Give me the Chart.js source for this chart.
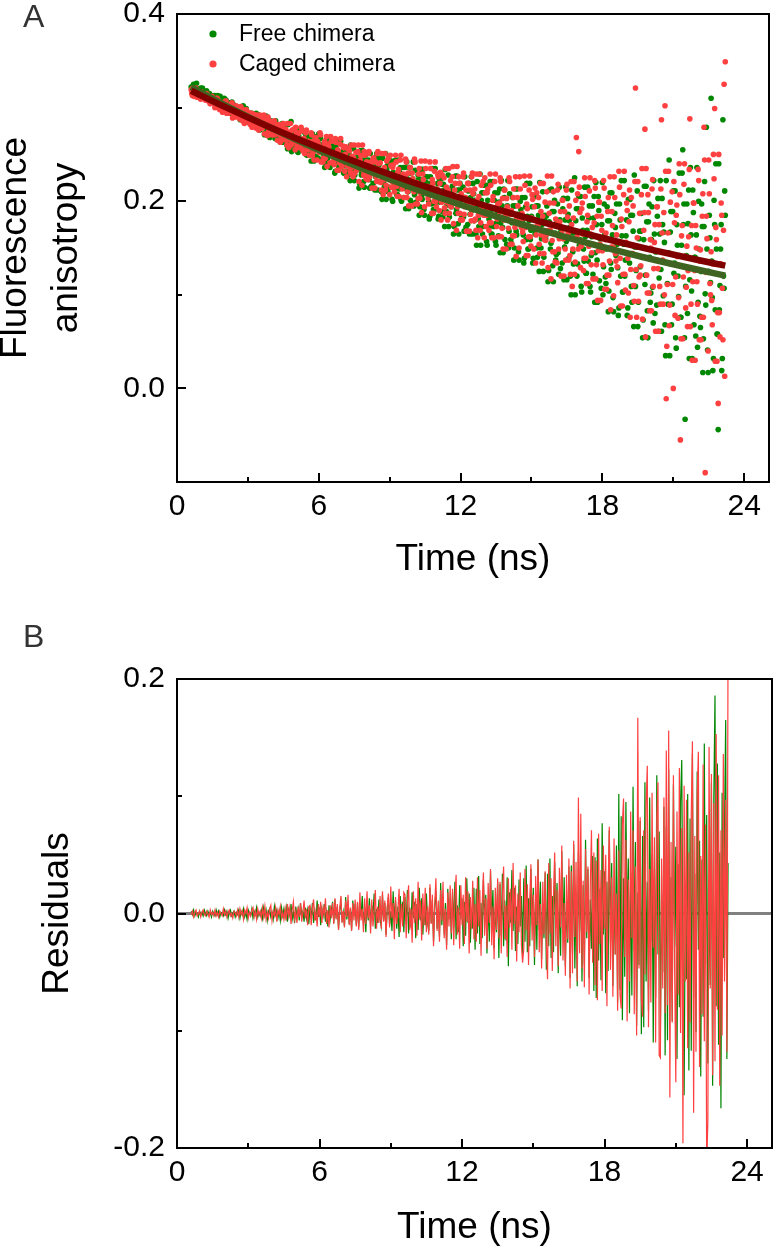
<!DOCTYPE html>
<html><head><meta charset="utf-8">
<script src="https://cdn.jsdelivr.net/npm/chart.js@4.4.1/dist/chart.umd.min.js"></script>
<style>
html,body{margin:0;padding:0;background:#fff;}
#wrap{position:relative;width:773px;height:1250px;overflow:hidden;background:#fff;}
canvas{position:absolute;left:0;}
.plabel{position:absolute;left:23px;font-family:Arial,"Liberation Sans",Helvetica,sans-serif;font-size:32px;line-height:32px;color:#333;}
</style></head><body>
<div id="wrap">
<canvas id="cA" width="773" height="630" style="top:-30px;width:773px;height:630px"></canvas>
<canvas id="cB" width="773" height="650" style="top:600px;width:773px;height:650px"></canvas>
<div class="plabel" style="top:0px">A</div>
<div class="plabel" style="top:620px">B</div>
</div>
<script>
// ---------------- DATA ----------------
const seriesNames = ['Free chimera', 'Caged chimera'];
const xTicks = [0, 6, 12, 18, 24];
const xMinorTicks = [3, 9, 15, 21];
const yTicksA = [0.0, 0.2, 0.4];
const yMinorTicksA = [-0.1, 0.1, 0.3];
const yTicksB = [-0.2, 0.0, 0.2];
const yMinorTicksB = [-0.1, 0.1];

// time channels (ns)
const time = [
0.6,0.65,0.7,0.75,0.8,0.85,0.9,0.95,1.0,1.05,1.1,1.15,1.2,1.25,1.3,1.35,1.4,1.45,1.5,1.55,
1.6,1.65,1.7,1.75,1.8,1.85,1.9,1.95,2.0,2.05,2.1,2.15,2.2,2.25,2.3,2.35,2.4,2.45,2.5,2.55,
2.6,2.65,2.7,2.75,2.8,2.85,2.9,2.95,3.0,3.05,3.1,3.15,3.2,3.25,3.3,3.35,3.4,3.45,3.5,3.55,
3.6,3.65,3.7,3.75,3.8,3.85,3.9,3.95,4.0,4.05,4.1,4.15,4.2,4.25,4.3,4.35,4.4,4.45,4.5,4.55,
4.6,4.65,4.7,4.75,4.8,4.85,4.9,4.95,5.0,5.05,5.1,5.15,5.2,5.25,5.3,5.35,5.4,5.45,5.5,5.55,
5.6,5.65,5.7,5.75,5.8,5.85,5.9,5.95,6.0,6.05,6.1,6.15,6.2,6.25,6.3,6.35,6.4,6.45,6.5,6.55,
6.6,6.65,6.7,6.75,6.8,6.85,6.9,6.95,7.0,7.05,7.1,7.15,7.2,7.25,7.3,7.35,7.4,7.45,7.5,7.55,
7.6,7.65,7.7,7.75,7.8,7.85,7.9,7.95,8.0,8.05,8.1,8.15,8.2,8.25,8.3,8.35,8.4,8.45,8.5,8.55,
8.6,8.65,8.7,8.75,8.8,8.85,8.9,8.95,9.0,9.05,9.1,9.15,9.2,9.25,9.3,9.35,9.4,9.45,9.5,9.55,
9.6,9.65,9.7,9.75,9.8,9.85,9.9,9.95,10.0,10.05,10.1,10.15,10.2,10.25,10.3,10.35,10.4,10.45,10.5,10.55,
10.6,10.65,10.7,10.75,10.8,10.85,10.9,10.95,11.0,11.05,11.1,11.15,11.2,11.25,11.3,11.35,11.4,11.45,11.5,11.55,
11.6,11.65,11.7,11.75,11.8,11.85,11.9,11.95,12.0,12.05,12.1,12.15,12.2,12.25,12.3,12.35,12.4,12.45,12.5,12.55,
12.6,12.65,12.7,12.75,12.8,12.85,12.9,12.95,13.0,13.05,13.1,13.15,13.2,13.25,13.3,13.35,13.4,13.45,13.5,13.55,
13.6,13.65,13.7,13.75,13.8,13.85,13.9,13.95,14.0,14.05,14.1,14.15,14.2,14.25,14.3,14.35,14.4,14.45,14.5,14.55,
14.6,14.65,14.7,14.75,14.8,14.85,14.9,14.95,15.0,15.05,15.1,15.15,15.2,15.25,15.3,15.35,15.4,15.45,15.5,15.55,
15.6,15.65,15.7,15.75,15.8,15.85,15.9,15.95,16.0,16.05,16.1,16.15,16.2,16.25,16.3,16.35,16.4,16.45,16.5,16.55,
16.6,16.65,16.7,16.75,16.8,16.85,16.9,16.95,17.0,17.05,17.1,17.15,17.2,17.25,17.3,17.35,17.4,17.45,17.5,17.55,
17.6,17.65,17.7,17.75,17.8,17.85,17.9,17.95,18.0,18.05,18.1,18.15,18.2,18.25,18.3,18.35,18.4,18.45,18.5,18.55,
18.6,18.65,18.7,18.75,18.8,18.85,18.9,18.95,19.0,19.05,19.1,19.15,19.2,19.25,19.3,19.35,19.4,19.45,19.5,19.55,
19.6,19.65,19.7,19.75,19.8,19.85,19.9,19.95,20.0,20.05,20.1,20.15,20.2,20.25,20.3,20.35,20.4,20.45,20.5,20.55,
20.6,20.65,20.7,20.75,20.8,20.85,20.9,20.95,21.0,21.05,21.1,21.15,21.2,21.25,21.3,21.35,21.4,21.45,21.5,21.55,
21.6,21.65,21.7,21.75,21.8,21.85,21.9,21.95,22.0,22.05,22.1,22.15,22.2,22.25,22.3,22.35,22.4,22.45,22.5,22.55,
22.6,22.65,22.7,22.75,22.8,22.85,22.9,22.95,23.0,23.05,23.1,23.15,23.2
];
// intermediate time channels used by the anisotropy points
const timeMid = [
0.625,0.675,0.725,0.775,0.825,0.875,0.925,0.975,1.025,1.075,1.125,1.175,1.225,1.275,1.325,1.375,1.425,1.475,1.525,1.575,
1.625,1.675,1.725,1.775,1.825,1.875,1.925,1.975,2.025,2.075,2.125,2.175,2.225,2.275,2.325,2.375,2.425,2.475,2.525,2.575,
2.625,2.675,2.725,2.775,2.825,2.875,2.925,2.975,3.025,3.075,3.125,3.175,3.225,3.275,3.325,3.375,3.425,3.475,3.525,3.575,
3.625,3.675,3.725,3.775,3.825,3.875,3.925,3.975,4.025,4.075,4.125,4.175,4.225,4.275,4.325,4.375,4.425,4.475,4.525,4.575,
4.625,4.675,4.725,4.775,4.825,4.875,4.925,4.975,5.025,5.075,5.125,5.175,5.225,5.275,5.325,5.375,5.425,5.475,5.525,5.575,
5.625,5.675,5.725,5.775,5.825,5.875,5.925,5.975,6.025,6.075,6.125,6.175,6.225,6.275,6.325,6.375,6.425,6.475,6.525,6.575,
6.625,6.675,6.725,6.775,6.825,6.875,6.925,6.975,7.025,7.075,7.125,7.175,7.225,7.275,7.325,7.375,7.425,7.475,7.525,7.575,
7.625,7.675,7.725,7.775,7.825,7.875,7.925,7.975,8.025,8.075,8.125,8.175,8.225,8.275,8.325,8.375,8.425,8.475,8.525,8.575,
8.625,8.675,8.725,8.775,8.825,8.875,8.925,8.975,9.025,9.075,9.125,9.175,9.225,9.275,9.325,9.375,9.425,9.475,9.525,9.575,
9.625,9.675,9.725,9.775,9.825,9.875,9.925,9.975,10.025,10.075,10.125,10.175,10.225,10.275,10.325,10.375,10.425,10.475,10.525,10.575,
10.625,10.675,10.725,10.775,10.825,10.875,10.925,10.975,11.025,11.075,11.125,11.175,11.225,11.275,11.325,11.375,11.425,11.475,11.525,11.575,
11.625,11.675,11.725,11.775,11.825,11.875,11.925,11.975,12.025,12.075,12.125,12.175,12.225,12.275,12.325,12.375,12.425,12.475,12.525,12.575,
12.625,12.675,12.725,12.775,12.825,12.875,12.925,12.975,13.025,13.075,13.125,13.175,13.225,13.275,13.325,13.375,13.425,13.475,13.525,13.575,
13.625,13.675,13.725,13.775,13.825,13.875,13.925,13.975,14.025,14.075,14.125,14.175,14.225,14.275,14.325,14.375,14.425,14.475,14.525,14.575,
14.625,14.675,14.725,14.775,14.825,14.875,14.925,14.975,15.025,15.075,15.125,15.175,15.225,15.275,15.325,15.375,15.425,15.475,15.525,15.575,
15.625,15.675,15.725,15.775,15.825,15.875,15.925,15.975,16.025,16.075,16.125,16.175,16.225,16.275,16.325,16.375,16.425,16.475,16.525,16.575,
16.625,16.675,16.725,16.775,16.825,16.875,16.925,16.975,17.025,17.075,17.125,17.175,17.225,17.275,17.325,17.375,17.425,17.475,17.525,17.575,
17.625,17.675,17.725,17.775,17.825,17.875,17.925,17.975,18.025,18.075,18.125,18.175,18.225,18.275,18.325,18.375,18.425,18.475,18.525,18.575,
18.625,18.675,18.725,18.775,18.825,18.875,18.925,18.975,19.025,19.075,19.125,19.175,19.225,19.275,19.325,19.375,19.425,19.475,19.525,19.575,
19.625,19.675,19.725,19.775,19.825,19.875,19.925,19.975,20.025,20.075,20.125,20.175,20.225,20.275,20.325,20.375,20.425,20.475,20.525,20.575,
20.625,20.675,20.725,20.775,20.825,20.875,20.925,20.975,21.025,21.075,21.125,21.175,21.225,21.275,21.325,21.375,21.425,21.475,21.525,21.575,
21.625,21.675,21.725,21.775,21.825,21.875,21.925,21.975,22.025,22.075,22.125,22.175,22.225,22.275,22.325,22.375,22.425,22.475,22.525,22.575,
22.625,22.675,22.725,22.775,22.825,22.875,22.925,22.975,23.025,23.075,23.125,23.175
];

// anisotropy, free chimera (green points) at `time`
const freeAniso = [
0.322,0.318,0.325,0.320,0.321,0.313,0.320,0.315,0.321,0.317,0.310,0.316,0.313,0.318,0.311,0.311,0.309,0.313,0.306,0.311,
0.304,0.312,0.306,0.309,0.301,0.307,0.304,0.299,0.310,0.302,0.302,0.297,0.305,0.294,0.303,0.296,0.303,0.292,0.297,0.299,
0.299,0.292,0.288,0.298,0.302,0.286,0.292,0.288,0.293,0.284,0.294,0.287,0.292,0.282,0.290,0.294,0.281,0.285,0.276,0.286,
0.280,0.287,0.271,0.284,0.278,0.288,0.271,0.283,0.278,0.274,0.283,0.267,0.279,0.277,0.269,0.281,0.270,0.283,0.263,0.277,
0.274,0.260,0.282,0.267,0.271,0.253,0.274,0.261,0.277,0.267,0.253,0.270,0.262,0.277,0.256,0.264,0.256,0.270,0.249,0.262,
0.250,0.269,0.255,0.262,0.243,0.265,0.258,0.246,0.272,0.252,0.255,0.243,0.261,0.236,0.258,0.248,0.265,0.239,0.251,0.256,
0.258,0.242,0.232,0.254,0.264,0.236,0.248,0.240,0.250,0.230,0.254,0.238,0.250,0.228,0.246,0.260,0.232,0.242,0.222,0.244,
0.233,0.247,0.214,0.240,0.228,0.254,0.221,0.244,0.235,0.226,0.244,0.214,0.237,0.232,0.219,0.246,0.226,0.251,0.212,0.239,
0.233,0.210,0.246,0.220,0.228,0.202,0.238,0.215,0.243,0.225,0.202,0.231,0.218,0.244,0.207,0.226,0.213,0.236,0.200,0.223,
0.204,0.236,0.213,0.224,0.192,0.230,0.219,0.198,0.242,0.207,0.217,0.197,0.228,0.185,0.223,0.205,0.234,0.191,0.211,0.220,
0.226,0.200,0.184,0.219,0.235,0.191,0.210,0.197,0.213,0.181,0.224,0.199,0.218,0.183,0.212,0.234,0.189,0.205,0.173,0.208,
0.194,0.216,0.165,0.205,0.187,0.227,0.176,0.212,0.198,0.183,0.215,0.168,0.204,0.197,0.175,0.219,0.186,0.226,0.165,0.208,
0.201,0.165,0.221,0.181,0.193,0.153,0.209,0.173,0.217,0.189,0.157,0.201,0.181,0.221,0.165,0.193,0.173,0.209,0.153,0.189,
0.163,0.213,0.177,0.195,0.145,0.204,0.186,0.154,0.222,0.168,0.186,0.155,0.204,0.137,0.195,0.168,0.213,0.146,0.177,0.191,
0.204,0.164,0.139,0.194,0.219,0.149,0.179,0.159,0.184,0.134,0.205,0.165,0.195,0.140,0.185,0.220,0.150,0.175,0.125,0.180,
0.160,0.195,0.114,0.178,0.149,0.213,0.131,0.189,0.166,0.143,0.197,0.122,0.180,0.168,0.134,0.203,0.151,0.215,0.116,0.186,
0.179,0.120,0.212,0.146,0.166,0.100,0.192,0.133,0.205,0.159,0.109,0.182,0.149,0.215,0.123,0.169,0.136,0.195,0.103,0.162,
0.122,0.205,0.145,0.175,0.092,0.190,0.160,0.107,0.220,0.130,0.164,0.112,0.194,0.082,0.179,0.134,0.209,0.097,0.149,0.172,
0.197,0.129,0.086,0.180,0.222,0.103,0.154,0.120,0.163,0.078,0.202,0.134,0.185,0.092,0.168,0.228,0.109,0.151,0.066,0.160,
0.130,0.187,0.054,0.159,0.111,0.216,0.083,0.178,0.140,0.102,0.194,0.070,0.165,0.146,0.089,0.203,0.118,0.222,0.061,0.175,
0.167,0.068,0.222,0.112,0.145,0.035,0.189,0.090,0.211,0.134,0.054,0.175,0.120,0.230,0.076,0.153,0.255,0.197,-0.033,0.142,
0.080,0.212,0.116,0.164,0.032,0.188,0.140,0.056,0.236,0.092,0.149,0.065,0.197,0.017,0.173,0.101,0.279,0.041,0.125,0.161,
0.310,0.097,0.032,0.175,0.240,0.058,-0.044,0.084,0.149,0.019,0.287,0.107,0.185
];
// anisotropy, free chimera (green points) at `timeMid`
const freeAnisoMid = [
0.322,0.316,0.321,0.319,0.326,0.319,0.314,0.320,0.317,0.321,0.310,0.315,0.312,0.314,0.311,0.315,0.312,0.307,0.309,0.313,
0.310,0.301,0.313,0.306,0.312,0.300,0.304,0.306,0.299,0.308,0.298,0.300,0.303,0.296,0.306,0.295,0.299,0.291,0.301,0.296,
0.295,0.287,0.299,0.291,0.296,0.286,0.299,0.290,0.294,0.284,0.288,0.294,0.284,0.292,0.280,0.285,0.283,0.292,0.279,0.287,
0.285,0.281,0.273,0.291,0.279,0.283,0.268,0.286,0.272,0.281,0.272,0.286,0.268,0.277,0.281,0.263,0.276,0.271,0.281,0.268,
0.273,0.256,0.271,0.264,0.285,0.271,0.258,0.274,0.265,0.277,0.252,0.267,0.259,0.265,0.256,0.274,0.267,0.250,0.258,0.270,
0.263,0.243,0.272,0.253,0.269,0.248,0.258,0.262,0.245,0.267,0.244,0.251,0.258,0.241,0.265,0.246,0.255,0.236,0.260,0.249,
0.248,0.230,0.258,0.240,0.250,0.236,0.264,0.244,0.254,0.232,0.240,0.254,0.232,0.250,0.222,0.242,0.236,0.256,0.228,0.246,
0.242,0.235,0.219,0.254,0.231,0.244,0.215,0.249,0.224,0.240,0.223,0.251,0.216,0.232,0.242,0.212,0.237,0.228,0.246,0.221,
0.230,0.202,0.228,0.215,0.251,0.233,0.210,0.238,0.223,0.243,0.200,0.226,0.213,0.223,0.207,0.244,0.231,0.202,0.215,0.236,
0.227,0.192,0.242,0.210,0.236,0.201,0.219,0.224,0.195,0.233,0.199,0.211,0.223,0.194,0.234,0.202,0.217,0.185,0.226,0.208,
0.210,0.181,0.226,0.197,0.213,0.190,0.235,0.203,0.219,0.184,0.202,0.224,0.189,0.218,0.173,0.205,0.196,0.228,0.183,0.212,
0.209,0.198,0.173,0.227,0.191,0.212,0.165,0.219,0.180,0.205,0.183,0.226,0.172,0.197,0.211,0.165,0.204,0.190,0.219,0.179,
0.197,0.153,0.193,0.173,0.229,0.201,0.165,0.209,0.185,0.217,0.153,0.193,0.173,0.189,0.165,0.221,0.201,0.157,0.177,0.209,
0.199,0.145,0.222,0.172,0.213,0.159,0.186,0.195,0.150,0.208,0.159,0.177,0.195,0.150,0.213,0.164,0.186,0.137,0.200,0.173,
0.179,0.134,0.204,0.159,0.184,0.149,0.219,0.169,0.194,0.139,0.170,0.205,0.150,0.195,0.125,0.175,0.160,0.210,0.140,0.185,
0.184,0.166,0.126,0.212,0.155,0.189,0.114,0.201,0.137,0.178,0.145,0.215,0.128,0.168,0.192,0.116,0.180,0.157,0.203,0.139,
0.172,0.100,0.166,0.133,0.225,0.179,0.120,0.192,0.153,0.205,0.103,0.169,0.136,0.162,0.123,0.215,0.182,0.109,0.142,0.195,
0.182,0.092,0.220,0.137,0.205,0.115,0.160,0.175,0.100,0.197,0.119,0.149,0.179,0.104,0.209,0.127,0.164,0.082,0.187,0.142,
0.154,0.078,0.197,0.120,0.163,0.103,0.222,0.137,0.180,0.086,0.143,0.202,0.109,0.185,0.066,0.151,0.126,0.211,0.092,0.168,
0.168,0.140,0.073,0.216,0.121,0.178,0.054,0.197,0.092,0.159,0.108,0.222,0.080,0.146,0.184,0.061,0.165,0.127,0.203,0.099,
0.156,0.035,0.145,0.090,0.244,0.167,0.068,0.189,0.123,0.211,0.043,0.153,0.098,0.142,0.076,0.230,0.175,0.054,0.109,0.197,
0.176,0.032,0.236,0.104,0.212,0.068,0.140,0.164,0.044,0.200,0.077,0.125,0.173,0.053,0.221,0.089,0.149,0.017,0.185,0.113,
0.136,0.019,0.201,0.084,0.149,0.058,0.240,0.110,0.175,0.032,0.120,0.211
];

// anisotropy, caged chimera (red points) at `time`
const cagedAniso = [
0.319,0.313,0.317,0.315,0.321,0.311,0.313,0.317,0.309,0.315,0.310,0.313,0.308,0.315,0.309,0.309,0.304,0.311,0.308,0.306,
0.300,0.306,0.310,0.302,0.298,0.305,0.301,0.304,0.300,0.307,0.294,0.299,0.295,0.303,0.297,0.289,0.299,0.295,0.302,0.294,
0.294,0.288,0.301,0.291,0.296,0.283,0.295,0.286,0.290,0.294,0.282,0.294,0.285,0.286,0.292,0.278,0.286,0.276,0.292,0.281,
0.278,0.289,0.272,0.284,0.280,0.290,0.273,0.284,0.271,0.279,0.285,0.271,0.277,0.265,0.282,0.271,0.277,0.266,0.283,0.272,
0.277,0.260,0.272,0.266,0.283,0.261,0.267,0.277,0.255,0.273,0.263,0.273,0.257,0.279,0.260,0.266,0.251,0.273,0.263,0.258,
0.249,0.263,0.271,0.252,0.244,0.268,0.257,0.264,0.256,0.273,0.242,0.256,0.246,0.264,0.249,0.237,0.261,0.252,0.269,0.251,
0.251,0.239,0.267,0.245,0.255,0.233,0.261,0.241,0.249,0.257,0.232,0.258,0.238,0.242,0.254,0.230,0.248,0.226,0.260,0.236,
0.233,0.253,0.221,0.244,0.237,0.260,0.228,0.249,0.224,0.240,0.251,0.226,0.237,0.214,0.246,0.230,0.242,0.221,0.253,0.233,
0.241,0.212,0.233,0.223,0.251,0.217,0.228,0.246,0.207,0.238,0.221,0.239,0.210,0.249,0.216,0.231,0.205,0.244,0.226,0.218,
0.204,0.227,0.242,0.210,0.195,0.236,0.219,0.230,0.216,0.245,0.197,0.220,0.203,0.235,0.209,0.188,0.229,0.214,0.243,0.211,
0.216,0.197,0.242,0.207,0.223,0.187,0.232,0.200,0.213,0.226,0.190,0.231,0.199,0.206,0.225,0.187,0.215,0.180,0.235,0.196,
0.194,0.226,0.176,0.212,0.201,0.237,0.187,0.219,0.180,0.205,0.226,0.186,0.204,0.168,0.219,0.194,0.212,0.179,0.230,0.197,
0.213,0.169,0.201,0.185,0.229,0.177,0.193,0.221,0.161,0.209,0.185,0.213,0.169,0.229,0.177,0.201,0.161,0.221,0.193,0.181,
0.162,0.198,0.221,0.171,0.149,0.212,0.185,0.203,0.180,0.225,0.154,0.190,0.163,0.213,0.172,0.141,0.204,0.181,0.226,0.177,
0.187,0.157,0.227,0.172,0.197,0.142,0.212,0.162,0.182,0.202,0.149,0.214,0.164,0.174,0.204,0.144,0.189,0.134,0.219,0.159,
0.158,0.210,0.129,0.187,0.169,0.227,0.146,0.198,0.135,0.175,0.212,0.149,0.178,0.120,0.201,0.160,0.189,0.137,0.218,0.166,
0.195,0.122,0.175,0.149,0.221,0.135,0.268,0.208,0.253,0.188,0.152,0.198,0.126,0.225,0.139,0.178,0.112,0.211,0.165,0.145,
0.117,0.177,0.214,0.132,0.094,0.199,0.154,0.184,0.147,0.222,0.106,0.166,0.121,0.204,0.136,0.084,0.189,0.151,0.226,0.144,
0.164,0.113,0.232,0.139,0.181,0.088,0.207,0.122,0.156,0.190,0.102,0.212,0.127,0.144,0.195,0.093,0.321,0.076,0.221,0.119,
0.121,0.207,0.074,0.169,0.277,0.235,0.102,0.188,0.083,0.150,0.213,0.109,0.156,0.061,0.194,0.128,0.175,0.090,0.287,0.137,
0.188,0.302,-0.011,0.111,0.232,0.089,0.133,0.210,0.000,0.177,0.119,0.196,0.075,0.240,-0.055,0.163,0.053,0.218,0.141,0.108,
0.066,0.162,0.288,0.090,0.030,0.198,0.126,0.174,0.114,0.234,0.052,0.148,0.076,0.208,0.279,-0.090,0.184,0.124,0.244,0.112,
0.146,0.068,0.250,0.299,0.172,0.029,-0.016,0.081,0.133,0.185,0.052,0.325,0.349
];
// anisotropy, caged chimera (red points) at `timeMid`
const cagedAnisoMid = [
0.315,0.321,0.312,0.318,0.313,0.316,0.313,0.312,0.317,0.311,0.313,0.311,0.309,0.314,0.307,0.309,0.307,0.312,0.305,0.308,
0.304,0.310,0.300,0.307,0.303,0.305,0.295,0.302,0.299,0.307,0.299,0.294,0.302,0.295,0.305,0.295,0.297,0.290,0.300,0.294,
0.290,0.293,0.299,0.286,0.295,0.286,0.298,0.285,0.295,0.288,0.290,0.279,0.293,0.286,0.283,0.292,0.282,0.285,0.278,0.288,
0.279,0.292,0.280,0.286,0.270,0.275,0.286,0.273,0.280,0.271,0.286,0.274,0.280,0.275,0.282,0.263,0.269,0.282,0.276,0.266,
0.265,0.283,0.257,0.274,0.260,0.276,0.267,0.264,0.279,0.259,0.272,0.266,0.260,0.275,0.254,0.267,0.260,0.276,0.255,0.264,
0.257,0.273,0.249,0.264,0.256,0.268,0.244,0.261,0.252,0.271,0.254,0.242,0.261,0.246,0.269,0.252,0.258,0.241,0.264,0.249,
0.243,0.249,0.263,0.233,0.253,0.241,0.267,0.237,0.259,0.245,0.250,0.226,0.256,0.242,0.234,0.260,0.238,0.246,0.230,0.252,
0.235,0.260,0.237,0.249,0.217,0.233,0.253,0.228,0.242,0.223,0.253,0.230,0.242,0.233,0.246,0.214,0.226,0.251,0.240,0.221,
0.220,0.251,0.207,0.236,0.212,0.243,0.228,0.223,0.249,0.215,0.236,0.226,0.216,0.242,0.205,0.234,0.221,0.249,0.213,0.229,
0.219,0.245,0.204,0.230,0.216,0.236,0.195,0.224,0.210,0.242,0.217,0.197,0.229,0.203,0.243,0.214,0.223,0.194,0.235,0.209,
0.203,0.213,0.235,0.187,0.219,0.200,0.242,0.194,0.229,0.207,0.219,0.180,0.228,0.206,0.193,0.235,0.199,0.212,0.187,0.222,
0.198,0.237,0.201,0.219,0.169,0.194,0.226,0.187,0.208,0.180,0.230,0.194,0.212,0.197,0.219,0.168,0.186,0.226,0.208,0.179,
0.181,0.229,0.161,0.205,0.169,0.217,0.193,0.185,0.225,0.173,0.209,0.193,0.177,0.217,0.161,0.205,0.185,0.229,0.173,0.197,
0.185,0.225,0.162,0.203,0.180,0.212,0.149,0.194,0.171,0.221,0.186,0.154,0.204,0.163,0.226,0.181,0.195,0.150,0.213,0.172,
0.167,0.182,0.217,0.142,0.192,0.162,0.227,0.152,0.207,0.172,0.194,0.134,0.209,0.174,0.154,0.219,0.164,0.184,0.144,0.199,
0.164,0.227,0.169,0.198,0.117,0.158,0.210,0.146,0.181,0.134,0.218,0.160,0.189,0.166,0.201,0.120,0.149,0.212,0.183,0.137,
0.142,0.221,0.109,0.182,0.122,0.201,0.162,0.149,0.215,0.129,0.192,0.165,0.139,0.205,0.112,0.185,0.152,0.225,0.132,0.172,
0.154,0.222,0.117,0.184,0.147,0.199,0.094,0.169,0.132,0.214,0.159,0.106,0.189,0.121,0.226,0.151,0.174,0.099,0.204,0.136,
0.130,0.156,0.215,0.088,0.173,0.122,0.232,0.105,0.198,0.139,0.178,0.076,0.204,0.144,0.110,0.221,0.127,0.161,0.093,0.187,
0.131,0.235,0.140,0.188,0.055,0.121,0.207,0.102,0.159,0.083,0.223,0.128,0.175,0.137,0.194,0.061,0.109,0.213,0.166,0.090,
0.100,0.232,0.045,0.166,0.067,0.199,0.133,0.111,0.221,0.078,0.185,0.141,0.097,0.207,0.053,0.174,0.119,0.240,0.086,0.152,
0.126,0.234,0.066,0.174,0.114,0.198,0.030,0.150,0.090,0.222,0.136,0.052,0.184,0.076,0.244,0.124,0.160,0.040,0.208,0.100,
0.094,0.133,0.224,0.029,0.159,0.081,0.250,0.055,0.198,0.107,0.169,0.013
];

// fitted curves
const fitTime = [0.6, 2, 4, 6, 8, 10, 12, 14, 16, 18, 20, 22, 23.2];
const freeFit = [0.322, 0.303, 0.278, 0.2546, 0.2334, 0.2140, 0.1962, 0.1798, 0.1648, 0.1511, 0.1385, 0.1270, 0.1205];
const cagedFit = [0.318, 0.301, 0.2783, 0.2573, 0.2379, 0.2200, 0.2034, 0.1880, 0.1738, 0.1607, 0.1486, 0.1374, 0.1311];

// residuals, free chimera (green line) at `time`
const freeResid = [
0.002,-0.001,0.003,-0.002,0.001,0.000,-0.003,0.002,-0.001,0.001,-0.002,0.003,0.000,-0.002,0.002,-0.001,0.001,-0.003,0.002,0.000,
-0.002,0.003,-0.001,0.002,-0.003,0.001,0.000,-0.002,0.003,-0.001,0.002,-0.004,0.001,0.003,-0.002,0.000,0.002,-0.003,0.001,-0.001,
0.003,-0.004,0.002,-0.001,0.004,-0.003,0.001,-0.005,0.003,0.000,-0.002,0.004,-0.004,0.002,-0.001,0.005,-0.003,0.001,-0.002,0.003,
-0.004,0.005,-0.002,0.003,-0.006,0.002,0.004,-0.003,0.001,-0.005,0.006,-0.001,0.003,-0.004,0.002,-0.006,0.005,-0.002,0.004,-0.003,
0.005,-0.007,0.003,-0.002,0.008,-0.005,0.001,-0.008,0.006,-0.003,0.004,-0.006,0.009,-0.001,0.002,-0.007,0.005,-0.004,0.003,-0.009,
0.006,-0.004,0.009,-0.008,0.002,-0.006,0.011,-0.003,0.005,-0.010,0.004,-0.002,0.008,-0.007,0.001,-0.011,0.007,-0.005,0.003,0.010,
-0.008,0.012,-0.004,0.006,-0.013,0.003,0.010,-0.007,0.001,-0.011,0.014,-0.005,0.007,-0.009,0.004,-0.014,0.011,-0.002,0.008,-0.010,
0.009,-0.012,0.005,-0.003,0.015,-0.009,0.002,-0.016,0.011,-0.006,0.013,-0.010,0.007,-0.002,0.017,-0.013,0.004,-0.008,0.012,-0.005,
-0.011,0.016,-0.006,0.009,-0.018,0.004,0.014,-0.010,0.002,-0.015,0.019,-0.007,0.011,-0.013,0.006,-0.020,0.015,-0.003,0.010,-0.016,
0.014,-0.009,0.020,-0.017,0.005,-0.012,0.018,-0.004,0.010,-0.021,0.008,-0.014,0.022,-0.006,0.013,-0.018,0.003,-0.010,0.017,-0.008,
-0.015,0.022,-0.008,0.012,-0.024,0.006,0.019,-0.013,0.003,-0.020,0.026,-0.010,0.015,-0.018,0.009,-0.027,0.021,-0.005,0.013,-0.022,
0.018,-0.012,0.027,-0.022,0.007,-0.016,0.024,-0.005,0.013,-0.028,0.010,-0.019,0.030,-0.008,0.017,-0.025,0.004,-0.013,0.022,-0.031,
0.021,-0.017,0.032,-0.026,0.009,-0.021,0.029,-0.007,0.016,-0.034,0.012,-0.024,0.036,-0.010,0.020,-0.030,0.005,-0.016,0.027,-0.038,
0.025,-0.019,0.034,-0.028,0.011,-0.023,0.031,-0.045,0.018,-0.008,0.037,-0.015,0.022,-0.032,0.006,-0.026,0.029,-0.011,0.015,-0.035,
0.030,-0.024,0.041,-0.033,0.013,-0.028,0.038,-0.010,0.022,-0.044,0.016,-0.031,0.046,-0.014,0.027,-0.039,0.008,-0.021,0.035,-0.048,
0.034,-0.028,0.047,-0.038,0.015,-0.033,0.044,-0.012,0.026,-0.051,0.019,-0.036,0.053,-0.017,0.031,-0.045,0.010,-0.025,0.040,-0.055,
0.041,-0.034,0.059,-0.047,0.018,-0.062,0.052,-0.015,0.032,-0.058,0.024,-0.044,0.063,-0.021,0.038,-0.055,0.012,-0.030,0.049,-0.066,
0.048,-0.072,0.064,-0.040,0.021,-0.057,0.077,-0.018,0.036,-0.068,0.027,-0.049,0.071,-0.025,0.043,-0.062,0.014,-0.035,0.058,-0.076,
0.102,-0.065,0.083,-0.091,0.030,-0.054,0.095,-0.022,0.047,-0.085,0.035,-0.070,0.108,-0.032,0.061,-0.096,0.018,-0.044,0.079,-0.103,
0.066,-0.097,0.112,-0.058,0.027,-0.083,0.099,-0.024,0.051,-0.110,0.038,-0.072,0.118,-0.035,0.070,-0.104,0.016,-0.050,0.091,-0.121,
0.074,-0.108,0.123,-0.066,0.031,-0.092,0.110,-0.028,0.057,-0.124,0.042,-0.080,0.095,0.131,-0.039,-0.155,0.019,-0.056,0.102,-0.134,
0.081,-0.117,0.136,-0.072,0.034,-0.101,0.121,-0.031,0.062,-0.139,0.046,-0.088,0.145,-0.043,0.084,-0.128,0.021,-0.061,0.112,-0.147,
0.097,0.186,-0.079,0.128,-0.112,0.052,-0.166,0.103,-0.038,0.071,0.165,-0.124,0.043
];

// residuals, caged chimera (red line) at `time`
const cagedResid = [
-0.001,0.002,-0.003,0.001,0.003,-0.002,0.000,0.002,-0.003,0.001,0.003,-0.001,-0.002,0.002,0.000,-0.003,0.003,-0.001,0.001,-0.002,
0.003,-0.002,0.001,-0.003,0.002,0.000,-0.002,0.004,-0.001,0.002,-0.003,0.001,0.003,-0.002,0.000,-0.004,0.002,0.001,-0.002,0.003,
-0.003,0.004,-0.001,0.002,-0.005,0.003,0.000,0.005,-0.004,0.001,-0.002,0.003,0.005,-0.003,0.002,-0.005,0.004,-0.001,0.002,-0.004,
0.005,-0.003,0.006,-0.005,0.001,-0.004,0.004,0.007,-0.006,0.002,-0.002,0.005,-0.007,0.003,-0.001,0.006,-0.004,0.001,-0.005,0.004,
-0.006,0.008,-0.002,0.005,-0.009,0.003,0.010,-0.005,0.002,-0.008,0.006,-0.003,0.009,-0.007,0.001,0.011,-0.004,0.004,-0.010,0.006,
0.007,-0.010,0.004,0.012,-0.006,0.002,-0.011,0.008,-0.003,0.010,-0.008,0.005,-0.001,0.013,-0.009,0.003,-0.012,0.007,-0.004,0.009,
-0.009,0.013,-0.005,0.008,-0.014,0.004,0.015,-0.008,0.002,-0.012,0.011,-0.003,0.016,-0.010,0.005,-0.015,0.009,-0.006,0.012,-0.011,
0.010,-0.014,0.018,-0.006,0.004,-0.016,0.013,-0.009,0.019,-0.004,0.007,-0.017,0.012,-0.011,0.002,0.020,-0.013,0.006,-0.008,0.015,
-0.013,0.019,-0.007,0.011,-0.020,0.005,0.017,-0.012,0.023,-0.004,0.009,-0.022,0.014,-0.009,0.003,0.021,-0.016,0.008,-0.011,0.018,
0.016,-0.021,0.009,0.024,-0.014,0.004,-0.025,0.019,-0.008,0.013,-0.019,0.027,-0.005,0.011,-0.023,0.017,-0.010,0.022,-0.016,0.006,
-0.018,0.025,-0.009,0.016,-0.028,0.007,0.030,-0.015,0.011,-0.024,0.020,-0.006,0.027,-0.021,0.004,-0.031,0.018,-0.011,0.024,-0.017,
0.021,-0.027,0.012,0.033,-0.018,0.005,-0.030,0.024,-0.010,0.016,-0.026,0.031,-0.007,0.019,-0.034,0.014,-0.013,0.028,-0.022,0.008,
-0.024,0.031,-0.011,0.020,-0.036,0.009,0.035,-0.019,0.013,-0.030,0.026,-0.008,0.038,-0.027,0.006,-0.039,0.022,-0.014,0.030,-0.021,
0.027,-0.034,0.015,0.040,-0.022,0.007,-0.037,0.030,-0.012,0.021,-0.031,0.043,-0.009,0.024,-0.041,0.017,-0.016,0.035,-0.027,-0.042,
-0.030,0.038,-0.014,0.025,-0.044,0.011,0.042,-0.023,0.016,-0.037,0.032,-0.010,0.046,-0.033,0.008,-0.047,0.027,-0.018,0.036,-0.026,
-0.056,0.043,-0.017,0.030,-0.049,0.014,0.052,-0.028,0.020,-0.045,0.039,-0.012,0.058,-0.040,0.009,-0.053,0.033,-0.022,0.047,-0.064,
0.036,-0.051,0.062,-0.020,0.044,-0.058,0.099,-0.034,0.085,-0.047,0.028,-0.063,0.055,-0.016,0.040,-0.069,0.024,0.071,-0.042,0.052,
-0.061,0.045,-0.074,0.068,-0.026,0.037,-0.066,0.058,-0.013,0.050,-0.079,0.022,0.074,-0.048,0.031,-0.071,0.064,-0.035,0.017,-0.083,
0.054,-0.069,-0.081,0.076,0.098,-0.037,0.063,-0.092,0.029,-0.058,0.087,-0.021,0.071,-0.086,0.040,-0.104,0.167,-0.047,0.082,-0.073,
-0.088,0.071,-0.052,0.094,0.126,-0.097,0.038,-0.076,0.103,-0.029,0.065,-0.110,0.082,0.112,-0.121,-0.123,0.047,-0.064,0.099,-0.085,
0.139,-0.078,0.156,-0.157,0.061,-0.093,0.118,-0.046,-0.144,0.087,-0.069,0.124,-0.102,0.073,-0.196,0.109,-0.058,0.097,-0.115,0.052,
-0.093,0.084,0.147,-0.170,0.066,-0.118,0.101,0.138,-0.131,0.049,-0.086,0.127,-0.109,0.076,-0.215,-0.177,0.142,-0.064,0.119,-0.138,
0.094,-0.126,0.153,-0.082,0.118,-0.147,0.071,-0.104,0.136,-0.058,0.097,-0.118,0.230
];

// zero reference line of the residual panel
const zeroLineX = [0, 25.05];
const zeroLineY = [0, 0];

// ---------------- STYLE ----------------
const FONT = 'Arial, "Liberation Sans", Helvetica, sans-serif';
const GREEN = 'rgb(0,135,0)';
const RED = 'rgb(255,64,64)';
const DKGREEN = '#3f6320';
const DKRED = '#800000';
const X_MAX = 25.05;

Chart.defaults.font.family = FONT;
Chart.defaults.color = '#000';

function pts(xs, ys) {
  const out = [];
  const n = Math.min(xs.length, ys.length);
  for (let i = 0; i < n; i++) out.push({ x: xs[i], y: ys[i] });
  return out;
}

const framePlugin = {
  id: 'frame',
  afterDraw(chart, args, opts) {
    const { ctx, chartArea: a, scales } = chart;
    ctx.save();
    ctx.strokeStyle = '#000';
    ctx.lineWidth = 2;
    ctx.strokeRect(a.left, a.top, a.right - a.left, a.bottom - a.top);
    ctx.beginPath();
    opts.xMajor.forEach(v => { const p = Math.round(scales.x.getPixelForValue(v)); ctx.moveTo(p, a.bottom); ctx.lineTo(p, a.bottom - 9); });
    opts.xMinor.forEach(v => { const p = Math.round(scales.x.getPixelForValue(v)); ctx.moveTo(p, a.bottom); ctx.lineTo(p, a.bottom - 5); });
    opts.yMajor.forEach(v => { const p = Math.round(scales.y.getPixelForValue(v)); ctx.moveTo(a.left, p); ctx.lineTo(a.left + 9, p); });
    opts.yMinor.forEach(v => { const p = Math.round(scales.y.getPixelForValue(v)); ctx.moveTo(a.left, p); ctx.lineTo(a.left + 5, p); });
    ctx.stroke();
    ctx.restore();
  }
};

const inLegendPlugin = {
  id: 'inlegend',
  afterDraw(chart, args, opts) {
    if (!opts || !opts.items) return;
    const { ctx, chartArea: a } = chart;
    ctx.save();
    ctx.font = '23px ' + FONT;
    ctx.textBaseline = 'middle';
    ctx.textAlign = 'left';
    opts.items.forEach((it, i) => {
      const y = a.top + 20 + i * 30;
      ctx.beginPath();
      ctx.fillStyle = it.color;
      ctx.arc(a.left + 36, y, 3.6, 0, Math.PI * 2);
      ctx.fill();
      ctx.fillStyle = '#000';
      ctx.fillText(it.text, a.left + 62, y + 1);
    });
    ctx.restore();
  }
};

function xScale(axisHeight, titlePadBottom) {
  return {
    type: 'linear', min: 0, max: X_MAX,
    grid: { display: false, drawTicks: false },
    border: { display: false },
    afterBuildTicks: s => { s.ticks = xTicks.map(v => ({ value: v })); },
    afterFit: s => { s.height = axisHeight; },
    ticks: { font: { size: 30 }, padding: 7, maxRotation: 0, autoSkip: false, callback: v => String(v) },
    title: { display: true, text: 'Time (ns)', font: { size: 37, lineHeight: 1.25 }, padding: { top: 0, bottom: titlePadBottom } }
  };
}

function yScale(min, max, tickVals, titleText, titleLH, titlePadTop) {
  return {
    type: 'linear', min: min, max: max,
    grid: { display: false, drawTicks: false },
    border: { display: false },
    afterBuildTicks: s => { s.ticks = tickVals.map(v => ({ value: v })); },
    afterFit: s => { s.width = 177; },
    ticks: { font: { size: 30 }, padding: 12, autoSkip: false, callback: v => Number(v).toFixed(1) },
    title: { display: true, text: titleText, font: { size: 37, lineHeight: titleLH }, padding: { top: titlePadTop, bottom: 0 } }
  };
}

// ---------------- PANEL A ----------------
new Chart(document.getElementById('cA'), {
  type: 'scatter',
  data: {
    datasets: [
      { label: seriesNames[0], data: pts(time, freeAniso).concat(pts(timeMid, freeAnisoMid)), backgroundColor: GREEN, borderWidth: 0, pointRadius: 2.8, order: 3 },
      { label: seriesNames[1], data: pts(time, cagedAniso).concat(pts(timeMid, cagedAnisoMid)), backgroundColor: RED, borderWidth: 0, pointRadius: 2.8, order: 2 },
      { type: 'line', label: 'Free fit', data: pts(fitTime, freeFit), borderColor: DKGREEN, borderWidth: 6.5, pointRadius: 0, showLine: true, fill: false, cubicInterpolationMode: 'monotone', order: 1 },
      { type: 'line', label: 'Caged fit', data: pts(fitTime, cagedFit), borderColor: DKRED, borderWidth: 6.5, pointRadius: 0, showLine: true, fill: false, cubicInterpolationMode: 'monotone', order: 0 }
    ]
  },
  options: {
    responsive: false, animation: false, devicePixelRatio: 1, events: [],
    layout: { padding: { top: 44, right: 1, left: 0, bottom: 0 } },
    plugins: {
      legend: { display: false }, tooltip: { enabled: false },
      frame: { xMajor: xTicks, xMinor: xMinorTicks, yMajor: yTicksA, yMinor: yMinorTicksA },
      inlegend: { items: [ { text: seriesNames[0], color: GREEN }, { text: seriesNames[1], color: RED } ] }
    },
    scales: {
      x: xScale(118, 17),
      y: yScale(-0.1, 0.4, yTicksA, ['Fluorescence', 'anisotropy'], 1.38, -10)
    }
  },
  plugins: [framePlugin, inLegendPlugin]
});

// ---------------- PANEL B ----------------
new Chart(document.getElementById('cB'), {
  type: 'line',
  data: {
    datasets: [
      { label: seriesNames[0], data: pts(time, freeResid), borderColor: GREEN, borderWidth: 1.2, pointRadius: 0, fill: false, tension: 0, order: 1 },
      { label: seriesNames[1], data: pts(time, cagedResid), borderColor: RED, borderWidth: 1.2, pointRadius: 0, fill: false, tension: 0, order: 0 },
      { label: 'zero', data: pts(zeroLineX, zeroLineY), borderColor: '#808080', borderWidth: 3, pointRadius: 0, fill: false, order: 2 }
    ]
  },
  options: {
    responsive: false, animation: false, devicePixelRatio: 1, events: [],
    layout: { padding: { top: 79, right: 1, left: 0, bottom: 0 } },
    plugins: {
      legend: { display: false }, tooltip: { enabled: false },
      frame: { xMajor: xTicks, xMinor: xMinorTicks, yMajor: yTicksB, yMinor: yMinorTicksB }
    },
    scales: {
      x: xScale(102, -1),
      y: yScale(-0.2, 0.2, yTicksB, 'Residuals', 1.25, 35)
    }
  },
  plugins: [framePlugin]
});
</script>
</body></html>
